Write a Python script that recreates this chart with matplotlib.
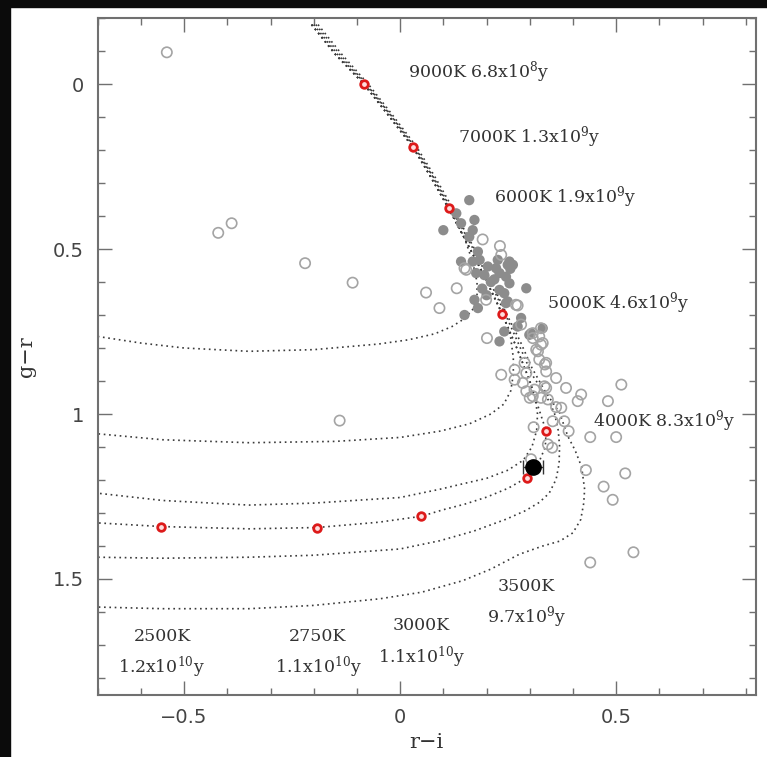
import matplotlib
matplotlib.use('agg')
import matplotlib.pyplot as plt
from matplotlib.patches import Rectangle
from matplotlib.ticker import MultipleLocator

# cooling tracks (r-i, g-r)
t1_x = [-0.20, -0.145, -0.08, -0.025, 0.032, 0.075, 0.115, 0.15, 0.168, 0.178, 0.178, 0.17, 0.15, 0.12, 0.08, 0.02,
        -0.05, -0.2, -0.35, -0.5, -0.6, -0.7]
t1_y = [-0.18, -0.09, 0.0, 0.09, 0.19, 0.28, 0.377, 0.47, 0.54, 0.60, 0.645, 0.68, 0.71, 0.735, 0.757, 0.775,
        0.788, 0.805, 0.81, 0.80, 0.785, 0.765]
t2_x = [-0.205, -0.15, -0.084, -0.03, 0.029, 0.07, 0.112, 0.15, 0.19, 0.238, 0.255, 0.262, 0.262, 0.256, 0.24,
        0.21, 0.16, 0.092, 0.0, -0.15, -0.35, -0.55, -0.7]
t2_y = [-0.18, -0.09, 0.0, 0.09, 0.19, 0.28, 0.377, 0.47, 0.57, 0.70, 0.76, 0.83, 0.88, 0.93, 0.97,
        1.0, 1.03, 1.052, 1.071, 1.083, 1.087, 1.078, 1.06]
t3_x = [-0.205, -0.15, -0.084, -0.03, 0.029, 0.07, 0.112, 0.15, 0.19, 0.236, 0.27, 0.30, 0.312, 0.318, 0.316,
        0.305, 0.285, 0.25, 0.2, 0.15, 0.092, 0.0, -0.2, -0.35, -0.55, -0.7]
t3_y = [-0.18, -0.09, 0.0, 0.09, 0.19, 0.28, 0.377, 0.47, 0.57, 0.696, 0.80, 0.90, 0.95, 1.0, 1.05,
        1.10, 1.14, 1.17, 1.195, 1.21, 1.228, 1.253, 1.27, 1.276, 1.262, 1.24]
t4_x = [-0.205, -0.15, -0.084, -0.03, 0.029, 0.07, 0.1125, 0.15, 0.19, 0.236, 0.27, 0.30, 0.338, 0.336, 0.32,
        0.293, 0.25, 0.2, 0.15, 0.1, 0.049, -0.05, -0.192, -0.35, -0.553, -0.7]
t4_y = [-0.18, -0.09, 0.0, 0.09, 0.19, 0.28, 0.377, 0.47, 0.57, 0.696, 0.80, 0.90, 1.052, 1.10, 1.15,
        1.193, 1.225, 1.252, 1.273, 1.29, 1.31, 1.328, 1.344, 1.348, 1.341, 1.33]
t5_x = [-0.195, -0.14, -0.078, -0.024, 0.034, 0.076, 0.118, 0.157, 0.197, 0.243, 0.275, 0.305, 0.34, 0.357,
        0.366, 0.369, 0.368, 0.361, 0.345, 0.322, 0.29, 0.245, 0.17, 0.092, 0.0, -0.2, -0.35, -0.55, -0.7]
t5_y = [-0.18, -0.09, 0.0, 0.09, 0.19, 0.28, 0.377, 0.47, 0.57, 0.696, 0.79, 0.88, 0.95, 0.996,
        1.05, 1.097, 1.15, 1.198, 1.24, 1.268, 1.293, 1.319, 1.355, 1.384, 1.409, 1.428, 1.434, 1.437, 1.434]
t6_x = [-0.19, -0.135, -0.074, -0.02, 0.038, 0.08, 0.122, 0.16, 0.2, 0.246, 0.278, 0.305, 0.335, 0.369, 0.388,
        0.405, 0.42, 0.427, 0.425, 0.418, 0.40, 0.37, 0.33, 0.276, 0.21, 0.145, 0.05, -0.047, -0.2, -0.35,
        -0.55, -0.7]
t6_y = [-0.18, -0.09, 0.0, 0.09, 0.19, 0.28, 0.377, 0.47, 0.57, 0.696, 0.78, 0.86, 0.93, 0.996, 1.067,
        1.11, 1.16, 1.228, 1.27, 1.32, 1.36, 1.385, 1.40, 1.425, 1.47, 1.505, 1.54, 1.56, 1.58, 1.59,
        1.59, 1.585]

# stars
filled_x = [0.160, 0.130, 0.100, 0.141, 0.168, 0.160, 0.172, 0.180, 0.141, 0.168, 0.184, 0.203, 0.226, 0.253,
            0.261, 0.249, 0.195, 0.218, 0.230, 0.176, 0.222, 0.255, 0.253, 0.292, 0.241, 0.230, 0.245, 0.172,
            0.180, 0.149, 0.280, 0.272, 0.303, 0.330, 0.299, 0.230, 0.241, 0.249, 0.245, 0.210, 0.200, 0.190]
filled_y = [0.352, 0.392, 0.443, 0.422, 0.443, 0.463, 0.412, 0.508, 0.538, 0.538, 0.533, 0.553, 0.533, 0.538,
            0.548, 0.548, 0.579, 0.592, 0.573, 0.573, 0.558, 0.560, 0.604, 0.619, 0.634, 0.624, 0.664, 0.654,
            0.679, 0.700, 0.709, 0.735, 0.755, 0.740, 0.760, 0.780, 0.750, 0.659, 0.584, 0.600, 0.640, 0.620]
open_x = [-0.540, -0.421, -0.390, -0.220, -0.110, -0.140, 0.060, 0.091, 0.131, 0.201, 0.191, 0.231, 0.234,
          0.153, 0.149, 0.272, 0.199, 0.326, 0.268, 0.307, 0.326, 0.319, 0.322, 0.335, 0.338, 0.288, 0.292,
          0.361, 0.234, 0.265, 0.284, 0.292, 0.311, 0.334, 0.307, 0.326, 0.265, 0.322, 0.330, 0.315, 0.280,
          0.307, 0.300, 0.342, 0.338, 0.338, 0.512, 0.419, 0.411, 0.481, 0.440, 0.500, 0.430, 0.521, 0.471,
          0.492, 0.540, 0.440, 0.361, 0.373, 0.380, 0.390, 0.353, 0.309, 0.342, 0.352, 0.303, 0.384]
open_y = [-0.096, 0.451, 0.422, 0.543, 0.602, 1.020, 0.632, 0.679, 0.619, 0.770, 0.471, 0.491, 0.518,
          0.563, 0.558, 0.671, 0.654, 0.740, 0.669, 0.770, 0.790, 0.810, 0.835, 0.850, 0.871, 0.845, 0.876,
          0.891, 0.881, 0.896, 0.906, 0.931, 0.926, 0.916, 0.946, 0.951, 0.866, 0.765, 0.785, 0.805, 0.729,
          0.755, 0.951, 0.956, 0.921, 0.845, 0.911, 0.941, 0.961, 0.961, 1.070, 1.070, 1.170, 1.180, 1.220,
          1.260, 1.419, 1.450, 0.979, 0.981, 1.022, 1.052, 1.022, 1.040, 1.092, 1.102, 1.137, 0.921]

# model points on the labelled track
red_x = [-0.084, 0.029, 0.1125, 0.236, 0.338, 0.293, 0.049, -0.192, -0.553]
red_y = [0.0, 0.19, 0.377, 0.696, 1.052, 1.193, 1.31, 1.344, 1.341]

# the target
obj_x = 0.307
obj_y = 1.162
obj_xerr = 0.023

labels = ['9000K 6.8x10$^8$y', '7000K 1.3x10$^9$y', '6000K 1.9x10$^9$y', '5000K 4.6x10$^9$y',
          '4000K 8.3x10$^9$y', '3500K', '9.7x10$^9$y', '3000K', '1.1x10$^{10}$y',
          '2750K', '1.1x10$^{10}$y', '2500K', '1.2x10$^{10}$y']
label_x = [0.183, 0.298, 0.382, 0.504, 0.61, 0.293, 0.294, 0.05, 0.05, -0.191, -0.189, -0.551, -0.553]
label_y = [-0.036, 0.161, 0.342, 0.664, 1.022, 1.522, 1.616, 1.641, 1.737, 1.673, 1.767, 1.673, 1.767]

plt.rcParams['mathtext.fontset'] = 'dejavuserif'

fig = plt.figure(figsize=(7.67, 7.57), dpi=100)
fig.patch.set_facecolor('white')
# dark frame of the screenshot
fig.patches.append(Rectangle((0, 1 - 7 / 757), 1, 7 / 757, transform=fig.transFigure, color='#0b0b0b', zorder=0))
fig.patches.append(Rectangle((0, 0), 10 / 767, 1, transform=fig.transFigure, color='#0b0b0b', zorder=0))

ax = fig.add_axes([97.7 / 767, 1 - 694.5 / 757, 658 / 767, 676.5 / 757])

tracks = [(t1_x, t1_y), (t2_x, t2_y), (t3_x, t3_y), (t4_x, t4_y), (t5_x, t5_y), (t6_x, t6_y)]
for tx, ty in tracks:
    ax.plot(tx, ty, color='#3a3a3a', linewidth=1.2, linestyle=(0, (1, 2.2)), zorder=2)

ax.scatter(filled_x, filled_y, s=55, color='#8c8c8c', edgecolors='none', zorder=3)
ax.scatter(open_x, open_y, s=55, facecolors='none', edgecolors='#a4a4a4', linewidths=1.2, zorder=3)
ax.scatter(red_x, red_y, s=30, facecolors='#ffdddd', edgecolors='#dd1a1a', linewidths=2, zorder=5)
ax.errorbar([obj_x], [obj_y], xerr=[obj_xerr], fmt='o', color='black', markersize=11,
            ecolor='#333333', elinewidth=1, capsize=5, capthick=1, zorder=6)

for txt, lx, ly in zip(labels, label_x, label_y):
    ax.text(lx, ly, txt, ha='center', va='center', fontsize=12.5, family='DejaVu Serif', color='#333333')

ax.set_xlim(-0.7, 0.823)
ax.set_ylim(1.85, -0.2)
ax.xaxis.set_major_locator(MultipleLocator(0.5))
ax.xaxis.set_minor_locator(MultipleLocator(0.1))
ax.yaxis.set_major_locator(MultipleLocator(0.5))
ax.yaxis.set_minor_locator(MultipleLocator(0.1))
ax.set_xticks([-0.5, 0, 0.5])
ax.set_xticklabels(['\u22120.5', '0', '0.5'])
ax.set_yticks([0, 0.5, 1, 1.5])
ax.set_yticklabels(['0', '0.5', '1', '1.5'])
ax.tick_params(which='both', direction='in', top=True, right=True, color='#707070', width=1,
               labelsize=14, labelcolor='#444444', pad=10)
ax.tick_params(which='major', length=10)
ax.tick_params(which='minor', length=5)
for sp in ax.spines.values():
    sp.set_color('#707070')
    sp.set_linewidth(1.5)

ax.set_xlabel('r\u2212i', family='DejaVu Serif', fontsize=15, color='#333333', labelpad=4)
ax.set_ylabel('g\u2212r', family='DejaVu Serif', fontsize=15, color='#333333', labelpad=12)

plt.savefig('out.png', dpi=100)
plt.close()
